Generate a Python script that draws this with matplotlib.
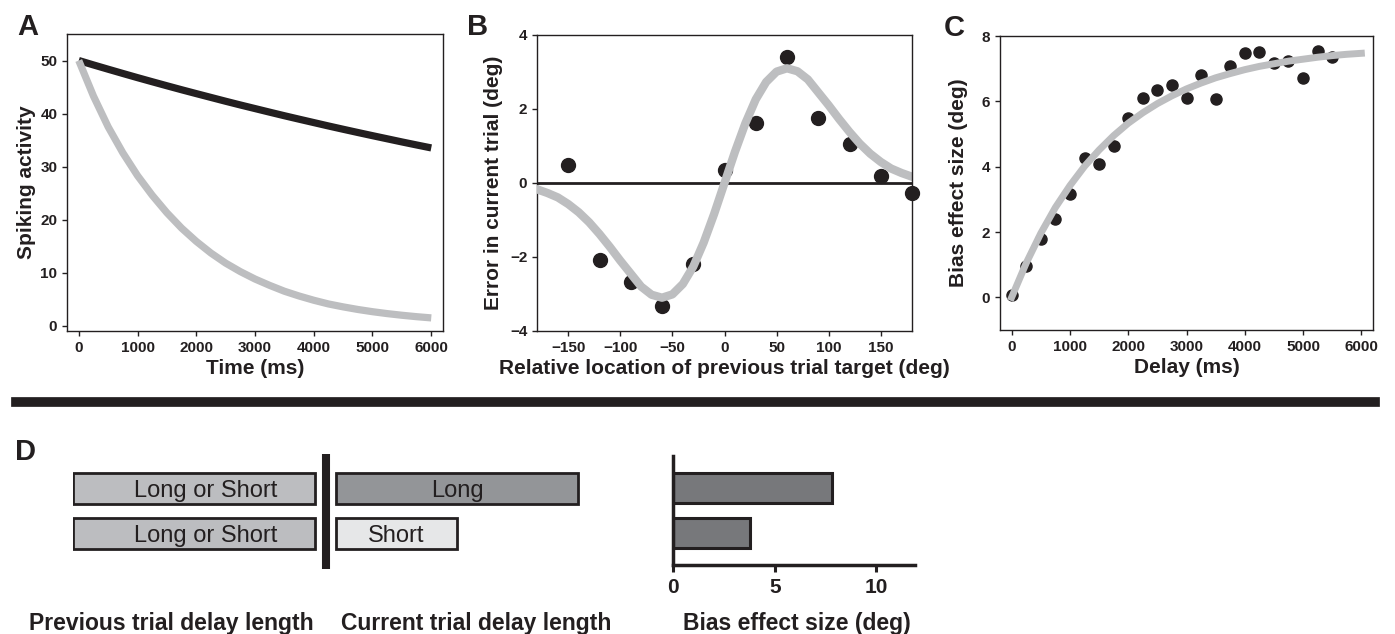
import matplotlib as mpl

mpl.use("Agg")

import matplotlib.pyplot as plt
from matplotlib.lines import Line2D

plt.rcParams["font.family"] = ["Liberation Sans", "DejaVu Sans"]

INK = "#231f20"
GREY = "#bdbec0"

# panel A: model spiking activity
time_ms = [0, 250, 500, 750, 1000, 1250, 1500, 1750, 2000, 2250, 2500, 2750, 3000,
           3250, 3500, 3750, 4000, 4250, 4500, 4750, 5000, 5250, 5500, 5750, 6000]
slow_decay = [50.0, 49.17, 48.36, 47.56, 46.77, 46.0, 45.24, 44.49, 43.76, 43.04, 42.32,
              41.62, 40.94, 40.26, 39.59, 38.94, 38.3, 37.66, 37.04, 36.43, 35.83, 35.24,
              34.65, 34.08, 33.52]
fast_decay = [50.0, 43.3, 37.5, 32.6, 28.3, 24.6, 21.3, 18.4, 15.9, 13.7, 11.8, 10.2, 8.8,
              7.6, 6.5, 5.6, 4.8, 4.1, 3.55, 3.06, 2.64, 2.28, 1.97, 1.7, 1.47]

# panel B: serial bias curve
rel_loc = [-150, -120, -90, -60, -30, 0, 30, 60, 90, 120, 150, 180]
rel_err = [0.49, -2.08, -2.67, -3.32, -2.19, 0.35, 1.61, 3.41, 1.75, 1.05, 0.2, -0.26]
fit_loc = list(range(-180, 181, 10))
fit_half = [0.0, 0.84, 1.61, 2.26, 2.73, 3.01, 3.1, 3.02, 2.8, 2.45, 2.1, 1.73, 1.38,
            1.06, 0.79, 0.57, 0.39, 0.27, 0.17]
fit_err = [-v for v in fit_half[:0:-1]] + fit_half

# panel C: bias vs delay
delay_ms = [0, 250, 500, 750, 1000, 1250, 1500, 1750, 2000, 2250, 2500, 2750, 3000,
            3250, 3500, 3750, 4000, 4250, 4500, 4750, 5000, 5250, 5500]
bias_deg = [0.08, 0.97, 1.79, 2.4, 3.17, 4.27, 4.07, 4.62, 5.49, 6.11, 6.35, 6.49, 6.11,
            6.82, 6.07, 7.07, 7.49, 7.51, 7.17, 7.25, 6.72, 7.55, 7.35]
fit_bias = [0.0, 1.05, 1.96, 2.75, 3.42, 4.01, 4.51, 4.95, 5.33, 5.65, 5.93, 6.17, 6.38,
            6.56, 6.72, 6.85, 6.97, 7.07, 7.15, 7.23, 7.29, 7.35, 7.4, 7.44, 7.47]

# panel D: schematic and bar chart
prev_labels = ["Long or Short", "Long or Short"]
prev_len = [2, 2]
curr_labels = ["Long", "Short"]
curr_len = [2, 1]
curr_colors = ["#939598", "#e6e7e8"]
bar_bias = [7.8, 3.8]

W, H = 1395, 634


def px_rect(left, top, right, bottom):
    return [left / W, 1 - bottom / H, (right - left) / W, (bottom - top) / H]


def style_top(ax):
    for spine in ax.spines.values():
        spine.set_linewidth(1.0)
        spine.set_color(INK)
    ax.tick_params(direction="out", length=3.5, width=1.0, colors=INK, labelsize=11, pad=3.5)
    for label in ax.get_xticklabels() + ax.get_yticklabels():
        label.set_fontweight("bold")


fig = plt.figure(figsize=(W / 100, H / 100), dpi=100)

# A
ax_a = fig.add_axes(px_rect(67, 34, 443, 331))
ax_a.plot(time_ms, slow_decay, color=INK, lw=5.2, solid_capstyle="butt")
ax_a.plot(time_ms, fast_decay, color=GREY, lw=5.2, solid_capstyle="butt")
ax_a.set_xlim(-200, 6200)
ax_a.set_ylim(-1, 55)
ax_a.set_xticks(range(0, 6001, 1000))
ax_a.set_yticks(range(0, 51, 10))
style_top(ax_a)
ax_a.set_xlabel("Time (ms)", fontsize=15, fontweight="bold", color=INK, labelpad=3)
ax_a.set_ylabel("Spiking activity", fontsize=15, fontweight="bold", color=INK, labelpad=3)

# B
ax_b = fig.add_axes(px_rect(537, 35, 912, 331))
ax_b.plot(rel_loc, rel_err, "o", color=INK, ms=10, zorder=2)
ax_b.axhline(0, color=INK, lw=2, zorder=3)
ax_b.plot(fit_loc, fit_err, color=GREY, lw=6, zorder=4)
ax_b.set_xlim(-180, 180)
ax_b.set_ylim(-4, 4)
ax_b.set_xticks(range(-150, 151, 50))
ax_b.set_yticks(range(-4, 5, 2))
style_top(ax_b)
for side in ["top", "right"]:
    ax_b.spines[side].set_zorder(5)
ax_b.set_xlabel("Relative location of previous trial target (deg)", fontsize=15,
                fontweight="bold", color=INK, labelpad=3)
ax_b.set_ylabel("Error in current trial (deg)", fontsize=15, fontweight="bold",
                color=INK, labelpad=5)
for pt in ax_b.lines[:1]:
    pt.set_clip_on(False)

# C
ax_c = fig.add_axes(px_rect(1000, 36, 1373, 330))
ax_c.plot(delay_ms, bias_deg, "o", color=INK, ms=8, zorder=2)
ax_c.plot(time_ms, fit_bias, color=GREY, lw=5, zorder=3)
ax_c.set_xlim(-200, 6200)
ax_c.set_ylim(-1, 8)
ax_c.set_xticks(range(0, 6001, 1000))
ax_c.set_yticks(range(0, 9, 2))
style_top(ax_c)
ax_c.set_xlabel("Delay (ms)", fontsize=15, fontweight="bold", color=INK, labelpad=3)
ax_c.set_ylabel("Bias effect size (deg)", fontsize=15, fontweight="bold", color=INK,
                labelpad=10)

# separator
fig.add_artist(Line2D([16 / W, 1375 / W], [1 - 402 / H, 1 - 402 / H], color=INK, lw=7))

# D schematic
rows = [1, 0]
ax_s = fig.add_axes(px_rect(73, 454, 73 + 4.5 * 121, 569))
ax_s.barh(rows, prev_len, left=0, height=0.69, color="#bcbdc0", edgecolor=INK, lw=2)
curr_left = 2.174
ax_s.barh(rows, curr_len, left=curr_left, height=0.69, color=curr_colors, edgecolor=INK, lw=2)
ax_s.axvline(2.09, color=INK, lw=5.8)
for y, lab, n in zip(rows, prev_labels, prev_len):
    ax_s.text(n * 0.5475, y - 0.18, lab, ha="center", va="baseline", fontsize=17, color=INK)
for y, lab, n in zip(rows, curr_labels, curr_len):
    ax_s.text(curr_left + n / 2, y - 0.18, lab, ha="center", va="baseline", fontsize=17,
              color=INK)
ax_s.set_xlim(0, 4.5)
ax_s.set_ylim(-0.789, 1.767)
ax_s.axis("off")

# D bars
ax_d = fig.add_axes(px_rect(673.3, 456, 915, 565))
ax_d.barh(rows, bar_bias, height=0.667, color="#77787b", edgecolor=INK, lw=2.2)
ax_d.set_xlim(0, 11.9)
ax_d.set_ylim(-0.704, 1.718)
ax_d.set_xticks([0, 5, 10])
ax_d.set_yticks([])
for side in ["top", "right"]:
    ax_d.spines[side].set_visible(False)
for side in ["left", "bottom"]:
    ax_d.spines[side].set_linewidth(2.5)
    ax_d.spines[side].set_color(INK)
ax_d.tick_params(axis="x", direction="out", length=5, width=2.2, colors=INK, labelsize=15,
                 pad=4.5)
for label in ax_d.get_xticklabels():
    label.set_fontweight("bold")

# panel letters and bottom labels
for letter, x, y in [("A", 17, 35), ("B", 467, 35), ("C", 944, 36), ("D", 15, 460)]:
    fig.text(x / W, 1 - y / H, letter, fontsize=21, fontweight="bold", color=INK,
             ha="left", va="baseline")
for text, x in [("Previous trial delay length", 171), ("Current trial delay length", 476),
                ("Bias effect size (deg)", 796.5)]:
    fig.text(x / W, 1 - 630 / H, text, fontsize=16.5, fontweight="bold", color=INK,
             ha="center", va="baseline")

fig.savefig("out.png", dpi=100)
plt.close(fig)
